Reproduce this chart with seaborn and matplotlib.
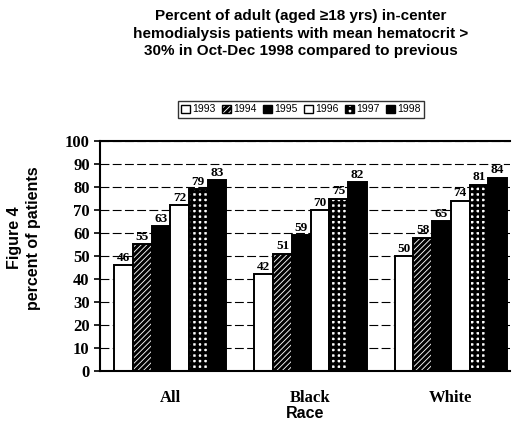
import numpy as np
import pandas as pd
import matplotlib
matplotlib.use("Agg")
import matplotlib.pyplot as plt
import seaborn as sns

# === DATOS ===
races = ["All", "Black", "White"]
years = ["1993", "1994", "1995", "1996", "1997", "1998"]
pct_all = [46, 55, 63, 72, 79, 83]
pct_black = [42, 51, 59, 70, 75, 82]
pct_white = [50, 58, 65, 74, 81, 84]

df = pd.DataFrame({
    "race": np.repeat(races, len(years)),
    "year": years * len(races),
    "pct": pct_all + pct_black + pct_white,
})

# === ESTILO ===
sns.set_theme(style="white")
plt.rcParams["hatch.linewidth"] = 2.2
plt.rcParams["text.color"] = "black"

face = {"1993": "white", "1994": "white", "1995": "black",
        "1996": "white", "1997": "white", "1998": "black"}
hatch = {"1993": "", "1994": "//////", "1995": "",
         "1996": "", "1997": "+++", "1998": ""}

fig = plt.figure(figsize=(5.16, 4.21), dpi=100)
ax = fig.add_axes([0.194, 0.119, 0.794, 0.546])

sns.barplot(data=df, x="race", y="pct", hue="year", hue_order=years,
            order=races, width=0.8, ax=ax, legend=False, saturation=1)

for container, yr in zip(ax.containers, years):
    for bar in container:
        bar.set_facecolor(face[yr])
        bar.set_edgecolor("black")
        bar.set_linewidth(1.4)
        bar.set_hatch(hatch[yr])
    ax.bar_label(container, fmt="%d", padding=1, fontsize=9.5, color="black",
                 family="Liberation Serif", fontweight="bold")

ax.set_ylim(0, 100)
ax.set_yticks(range(0, 101, 10))
ax.set_xlim(-0.5, 2.42)
ax.yaxis.grid(True, linestyle=(0, (8, 3)), color="black", linewidth=0.8)
ax.set_axisbelow(True)
for side in ["left", "bottom", "top"]:
    ax.spines[side].set_color("black")
    ax.spines[side].set_linewidth(1.5)
ax.spines["right"].set_visible(False)
ax.tick_params(axis="y", left=True, length=4, width=1.2, color="black")
ax.tick_params(axis="x", length=0, pad=14)

for lbl in ax.get_yticklabels() + ax.get_xticklabels():
    lbl.set_family("Liberation Serif")
    lbl.set_fontweight("bold")
    lbl.set_fontsize(12)
    lbl.set_color("black")

ax.set_xlabel("Race", fontsize=11.5, fontweight="bold", color="black",
              family="Liberation Sans", labelpad=0)
ax.set_ylabel("")

fig.text(0.047, 0.435, "Figure 4\npercent of patients", rotation=90,
         ha="center", va="center", fontsize=11.5, fontweight="bold",
         family="Liberation Sans", linespacing=1.3, color="black")

fig.text(0.583, 0.92,
         "Percent of adult (aged \u226518 yrs) in-center\n"
         "hemodialysis patients with mean hematocrit >\n"
         "30% in Oct-Dec 1998 compared to previous",
         ha="center", va="center", fontsize=11, fontweight="bold",
         family="Liberation Sans", linespacing=1.3, color="black")

# leyenda
handles = [plt.Rectangle((0, 0), 1, 1, facecolor=face[y], edgecolor="black",
                         hatch=hatch[y], linewidth=1) for y in years]
leg = fig.legend(handles, years, loc="center", bbox_to_anchor=(0.583, 0.74),
                 ncol=6, frameon=True, handlelength=0.9,
                 handleheight=0.9, handletextpad=0.2, columnspacing=0.6,
                 borderpad=0.3, fancybox=False, edgecolor="black",
                 prop={"family": "Liberation Sans", "size": 7.5})
for t in leg.get_texts():
    t.set_color("black")

fig.savefig("out.png", dpi=100)
